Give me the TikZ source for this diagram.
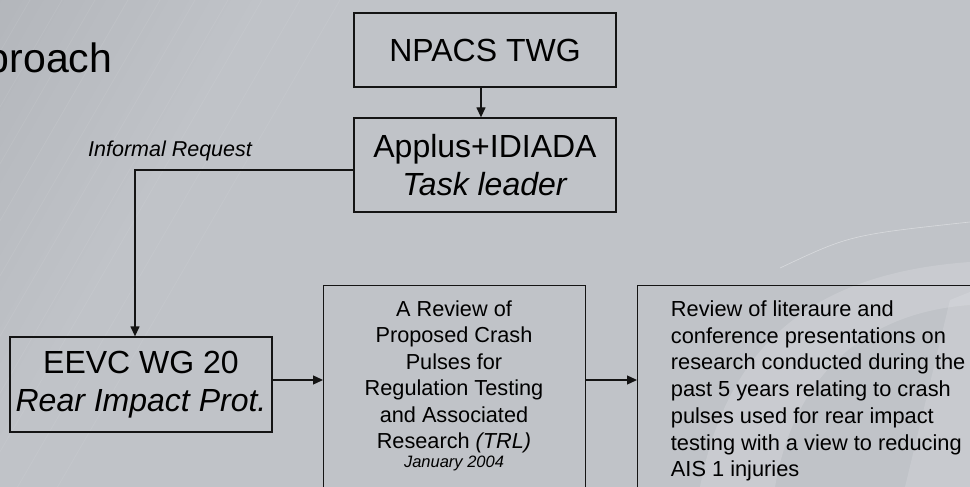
\documentclass[tikz,border=0pt]{standalone}
\usepackage{fontspec}
\setmainfont{Liberation Sans}
\usetikzlibrary{arrows.meta}
\definecolor{bgc}{RGB}{192,195,200}
\definecolor{bgmid}{RGB}{178,181,186}
\definecolor{bgdark}{RGB}{150,153,158}
\definecolor{ln}{RGB}{20,20,20}
\pgfdeclareverticalshading{bgsh}{100bp}{color(0bp)=(bgc); color(70bp)=(bgc); color(86bp)=(bgmid); color(100bp)=(bgdark)}
\begin{document}
\begin{tikzpicture}[x=1pt,y=-1pt,
  boxnode/.style={draw=ln, line width=1.3pt, inner sep=0pt, align=center},
  arr/.style={draw=ln, line width=1.3pt, -{Triangle[length=10pt,width=9pt]}},
  big/.style={font=\fontsize{32}{38}\selectfont},
  mid/.style={font=\fontsize{21.7}{26.5}\selectfont}]
\useasboundingbox (0,0) rectangle (970,487);
\clip (0,0) rectangle (970,487);
% background
\shade[shading=bgsh, shading angle=60] (0,0) rectangle (970,487);
\foreach \a in {30,62,95,128,160,195,228,262,300,340}
  \draw[white, opacity=0.07, line width=0.8pt] (\a,0) -- ({\a-0.58*487},487);
% faint logo
\fill[white, opacity=0.15] (700,487) .. controls (730,330) and (830,272) .. (970,262)
  -- (970,305) .. controls (870,312) and (795,370) .. (775,487) -- cycle;
\fill[white, opacity=0.13] (905,487) -- (950,300) -- (970,292) -- (970,487) -- cycle;
\draw[white, opacity=0.4, line width=0.6pt] (780,268) .. controls (850,235) .. (970,222);
% title fragment
\node[anchor=base east, inner sep=0pt, font=\fontsize{41}{48}\selectfont] (title) at (112.5,72.5) {Approach};
% boxes
\node[boxnode, big, minimum width=262pt, minimum height=74pt] (npacs) at (485,50) {NPACS TWG};
\node[boxnode, big, minimum width=262pt, minimum height=94pt] (applus) at (485,165)
  {Applus+IDIADA\\\textit{Task leader}};
\node[boxnode, big, minimum width=262pt, minimum height=95pt] (eevc) at (141,384.5)
  {EEVC WG 20\\\textit{Rear Impact Prot.}};
\node[boxnode, minimum width=262pt, minimum height=240pt, anchor=north west] (trl) at (323,285) {};
\node[anchor=north, align=center, inner sep=0pt, mid] (trltext) at (454,300.5)
  {A Review of\\Proposed Crash\\Pulses for\\Regulation Testing\\and Associated\\Research \textit{(TRL)}};
\node[anchor=base, inner sep=0pt, font=\itshape\fontsize{16.5}{20}\selectfont] (trldate) at (454,467.5) {January 2004};
\node[boxnode, minimum width=400pt, minimum height=240pt, anchor=north west] (rbox) at (637,285) {};
\node[anchor=north west, align=left, inner sep=0pt, font=\fontsize{21.8}{26.7}\selectfont] (rtext) at (670.7,300.5)
  {Review of literaure and\\conference presentations on\\research conducted during the\\past 5 years relating to crash\\pulses used for rear impact\\testing with a view to reducing\\AIS 1 injuries};
\node[anchor=base west, inner sep=0pt, font=\itshape\fontsize{21.5}{26}\selectfont] (inf) at (88,157) {Informal Request};
% connectors
\coordinate (ax) at (481,0);
\coordinate (ry) at (0,170);
\coordinate (rx) at (135,0);
\coordinate (ay) at (0,380);
\draw[arr] (npacs.south -| ax) -- (applus.north -| ax);
\draw[arr] (applus.west |- ry) -| (eevc.north -| rx);
\draw[arr] (eevc.east |- ay) -- (trl.west |- ay);
\draw[arr] (trl.east |- ay) -- (rbox.west |- ay);
\end{tikzpicture}
\end{document}
